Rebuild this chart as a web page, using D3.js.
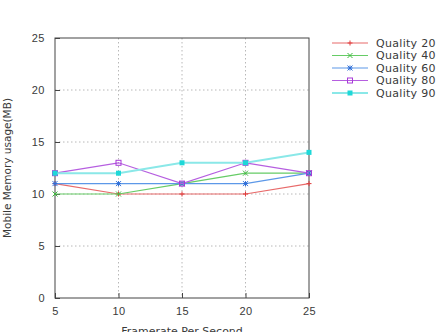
<!DOCTYPE html>
<html>
<head>
<meta charset="utf-8">
<script src="https://cdn.jsdelivr.net/npm/d3@7"></script>
<style>
  body { margin: 0; background: #fff; }
  svg { display: block; font-family: "DejaVu Sans", sans-serif; }
</style>
</head>
<body>
<div id="chart"></div>
<script>
// Data
const framerates = [5, 10, 15, 20, 25];
const quality20 = [11, 10, 10, 10, 11];
const quality40 = [10, 10, 11, 12, 12];
const quality60 = [11, 11, 11, 11, 12];
const quality80 = [12, 13, 11, 13, 12];
const quality90 = [12, 12, 13, 13, 14];
const seriesNames = ['Quality 20', 'Quality 40', 'Quality 60', 'Quality 80', 'Quality 90'];
const yTicks = [0, 5, 10, 15, 20, 25];

const series = [
    { name: seriesNames[0], values: quality20, color: '#e03c3c', line: '#e86a6a', marker: 'plus' },
    { name: seriesNames[1], values: quality40, color: '#3cb83c', line: '#66cc66', marker: 'cross' },
    { name: seriesNames[2], values: quality60, color: '#2f6fd8', line: '#5c98e8', marker: 'star' },
    { name: seriesNames[3], values: quality80, color: '#a83ad8', line: '#b65ee0', marker: 'square' },
    { name: seriesNames[4], values: quality90, color: '#1ed8d8', line: '#8ae8e8', marker: 'fsquare' }
];

const W = 446, H = 332;
const margin = { left: 55, top: 38, right: 137, bottom: 34 };
const width = W - margin.left - margin.right;
const height = H - margin.top - margin.bottom;

const svg = d3.select('#chart').append('svg')
    .attr('width', W)
    .attr('height', H);

const g = svg.append('g')
    .attr('transform', `translate(${margin.left},${margin.top})`);

const x = d3.scaleLinear().domain([5, 25]).range([0, width]);
const y = d3.scaleLinear().domain([0, 25]).range([height, 0]);

// Grid
g.selectAll('.vgrid')
    .data(framerates.slice(1, -1))
    .enter().append('line')
    .attr('x1', d => x(d)).attr('x2', d => x(d))
    .attr('y1', 0).attr('y2', height)
    .style('stroke', '#b8b8b8')
    .style('stroke-dasharray', '1.5,2.5');

g.selectAll('.hgrid')
    .data(yTicks.slice(1, -1))
    .enter().append('line')
    .attr('x1', 0).attr('x2', width)
    .attr('y1', d => y(d)).attr('y2', d => y(d))
    .style('stroke', '#b8b8b8')
    .style('stroke-dasharray', '1.5,2.5');

// Axes (ticks pointing inward)
const xAxis = d3.axisBottom(x).tickValues(framerates).tickSize(-5).tickPadding(9);
const yAxis = d3.axisLeft(y).tickValues(yTicks).tickSize(-5).tickPadding(10);

g.append('g')
    .attr('transform', `translate(0,${height})`)
    .call(xAxis)
    .call(a => a.select('.domain').remove());

g.append('g')
    .call(yAxis)
    .call(a => a.select('.domain').remove());

g.selectAll('.tick line').style('stroke', '#444');
g.selectAll('.tick text')
    .style('font-size', '11px')
    .style('letter-spacing', '0.5px')
    .style('fill', '#3a3a3a');

// Frame
g.append('rect')
    .attr('width', width)
    .attr('height', height)
    .style('fill', 'none')
    .style('stroke', '#444')
    .style('stroke-width', 1);

// Axis labels
svg.append('text')
    .attr('transform', `translate(11,${margin.top + height / 2}) rotate(-90)`)
    .style('text-anchor', 'middle')
    .style('font-size', '10.5px')
    .style('fill', '#3a3a3a')
    .text('Mobile Memory usage(MB)');

svg.append('text')
    .attr('x', margin.left + width / 2)
    .attr('y', 335)
    .style('text-anchor', 'middle')
    .style('font-size', '11px')
    .style('fill', '#3a3a3a')
    .text('Framerate Per Second');

function drawMarker(sel, type, color) {
    const s = 2.5;
    if (type === 'plus') {
        sel.append('path').attr('d', `M${-s},0H${s}M0,${-s}V${s}`)
            .style('stroke', color).style('fill', 'none');
    } else if (type === 'cross') {
        sel.append('path').attr('d', `M${-s},${-s}L${s},${s}M${-s},${s}L${s},${-s}`)
            .style('stroke', color).style('fill', 'none');
    } else if (type === 'star') {
        sel.append('path').attr('d', `M${-s},0H${s}M0,${-s}V${s}M${-s},${-s}L${s},${s}M${-s},${s}L${s},${-s}`)
            .style('stroke', color).style('fill', 'none');
    } else if (type === 'square') {
        sel.append('rect').attr('x', -s).attr('y', -s).attr('width', 2 * s).attr('height', 2 * s)
            .style('stroke', color).style('fill', 'none');
    } else {
        sel.append('rect').attr('x', -s).attr('y', -s).attr('width', 2 * s).attr('height', 2 * s)
            .style('fill', color);
    }
}

const line = d3.line()
    .x((d, i) => x(framerates[i]))
    .y(d => y(d));

series.forEach(sr => {
    g.append('path')
        .datum(sr.values)
        .attr('d', line)
        .style('fill', 'none')
        .style('stroke', sr.line)
        .style('stroke-width', sr.marker === 'fsquare' ? 2 : 1.2);

    sr.values.forEach((v, i) => {
        const m = g.append('g').attr('transform', `translate(${x(framerates[i])},${y(v)})`);
        drawMarker(m, sr.marker, sr.color);
    });
});

// Legend
const legend = svg.append('g').attr('transform', 'translate(332,43)');
series.forEach((sr, i) => {
    const row = legend.append('g').attr('transform', `translate(0,${i * 12.5})`);
    row.append('line')
        .attr('x1', 0).attr('x2', 36)
        .style('stroke', sr.line)
        .style('stroke-width', sr.marker === 'fsquare' ? 2 : 1.2);
    const m = row.append('g').attr('transform', 'translate(18,0)');
    drawMarker(m, sr.marker, sr.color);
    row.append('text')
        .attr('x', 44)
        .attr('dy', '0.35em')
        .style('font-size', '11px')
        .style('letter-spacing', '0.3px')
        .style('fill', '#3a3a3a')
        .text(sr.name);
});
</script>
</body>
</html>
